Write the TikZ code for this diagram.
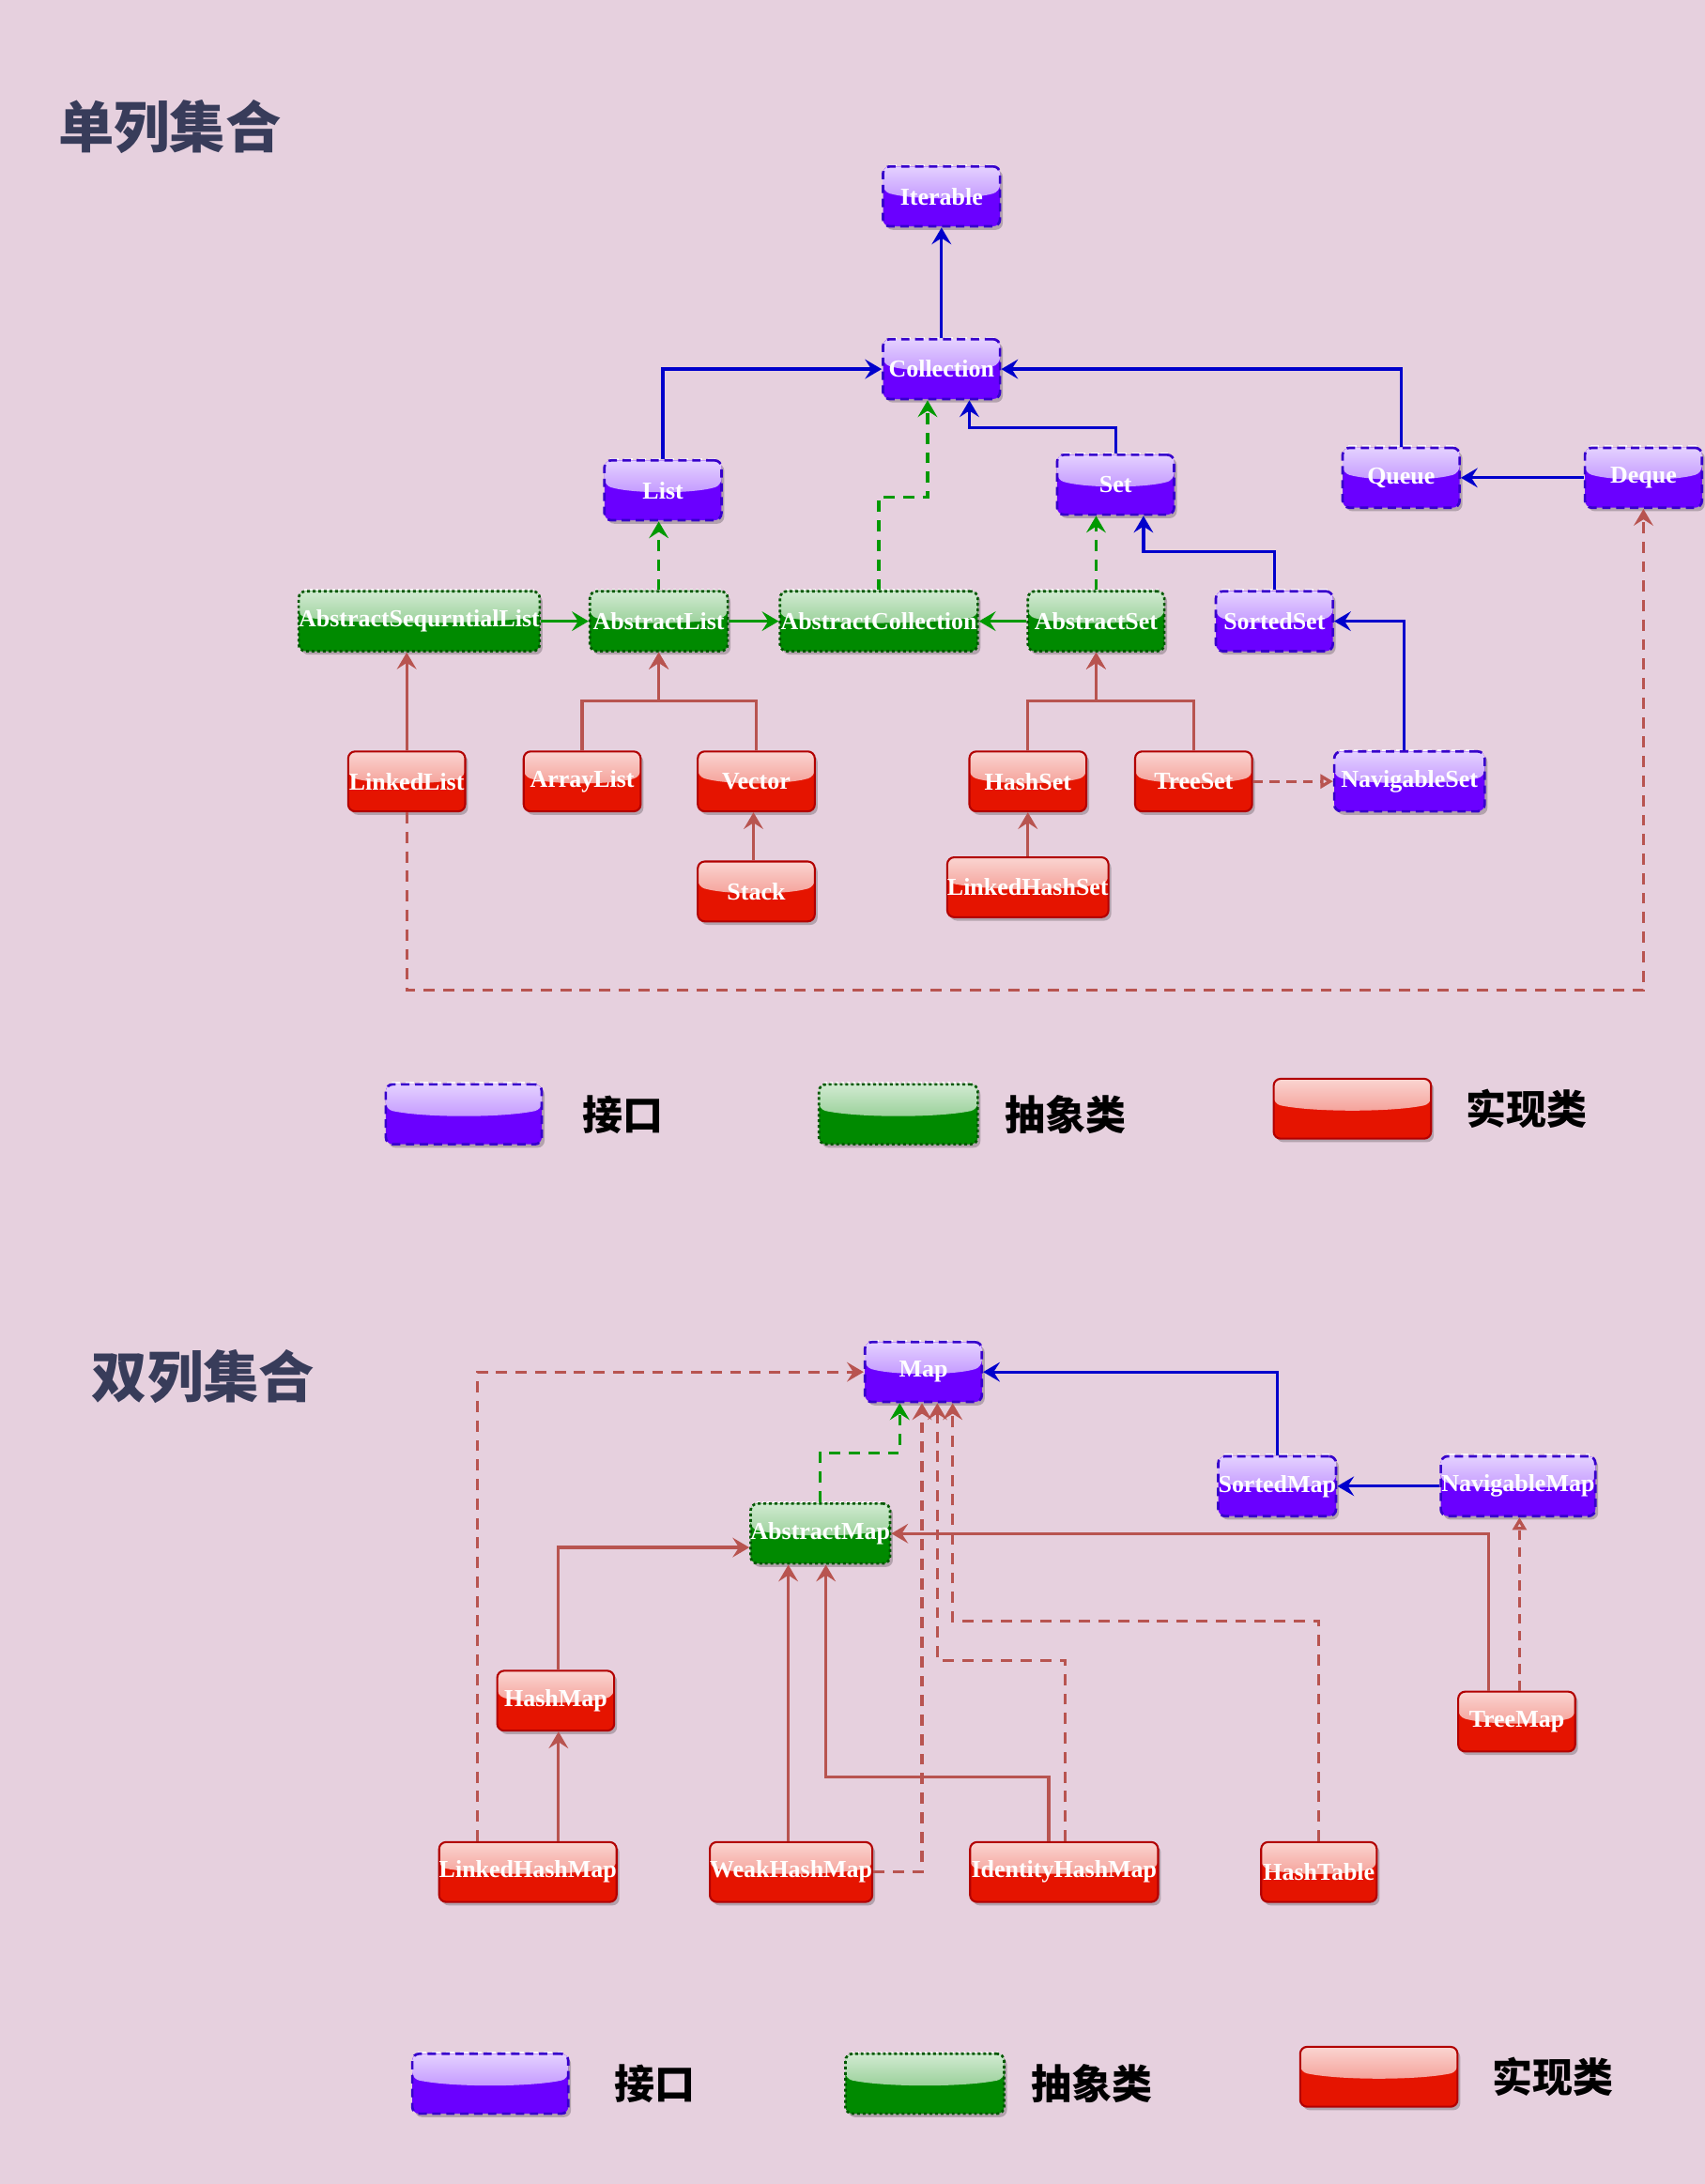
\documentclass[tikz,border=0pt]{standalone}
\usepackage{fontspec}
\setmainfont{Liberation Serif}
\newfontfamily\cjk{Noto Sans CJK SC}
\usetikzlibrary{arrows.meta,shadows,calc}
\definecolor{bg}{HTML}{E6D0DE}
\definecolor{ifc}{HTML}{6A00FF}
\definecolor{ifcd}{HTML}{3700CC}
\definecolor{abc}{HTML}{008A00}
\definecolor{abcd}{HTML}{005700}
\definecolor{imc}{HTML}{E51400}
\definecolor{imcd}{HTML}{B20000}
\definecolor{bluel}{HTML}{0000CC}
\definecolor{greenl}{HTML}{009900}
\definecolor{redl}{HTML}{B85450}
\definecolor{titlec}{HTML}{383C5A}
\tikzset{
  glass/.style={path picture={
    \fill[top color=#1!18!white, bottom color=#1!58!white]
      let \p1=(path picture bounding box.north west), \p2=(path picture bounding box.south east) in
      (\x1,\y1) -- (\x2,\y1) -- (\x2,{\y1-0.42*(\y1-\y2)})
      .. controls ({\x2-0.25*(\x2-\x1)},{\y1-0.56*(\y1-\y2)}) and ({\x1+0.25*(\x2-\x1)},{\y1-0.56*(\y1-\y2)}) ..
      (\x1,{\y1-0.42*(\y1-\y2)}) -- cycle;
  }},
  boxbase/.style={rectangle, rounded corners=5pt, minimum height=43pt, minimum width=84pt,
    inner sep=0pt, text=white, font=\bfseries\fontsize{17.5}{20}\selectfont,
    drop shadow={shadow xshift=2pt, shadow yshift=-2.5pt, fill=black, opacity=0.22}},
  topdash/.style={append after command={\pgfextra{\draw[white, opacity=0.85, line width=1.8pt, #1]
      ([xshift=5pt]\tikzlastnode.north west) -- ([xshift=-5pt]\tikzlastnode.north east);}}},
  iface/.style={boxbase, fill=ifc, draw=ifcd, line width=1.8pt, dash pattern=on 6pt off 4pt, glass=ifc,
    topdash={dash pattern=on 6pt off 4pt}},
  abst/.style={boxbase, fill=abc, draw=abcd, line width=1.8pt, dash pattern=on 2pt off 2pt, glass=abc,
    topdash={dash pattern=on 2pt off 2pt}},
  impl/.style={boxbase, fill=imc, draw=imcd, line width=1.4pt, glass=imc},
  title/.style={text=titlec, font=\cjk\bfseries\fontsize{40}{46}\selectfont, inner sep=0pt},
  legtext/.style={text=black, font=\cjk\bfseries\fontsize{29}{34}\selectfont, inner sep=0pt},
  tip/.style={-{Stealth[length=12pt,width=14pt,inset=4.5pt]}},
  be/.style={draw=bluel, line width=2.2pt, tip},
  gs/.style={draw=greenl, line width=2.2pt, tip},
  gd/.style={gs, dash pattern=on 8pt off 6pt},
  rs/.style={draw=redl, line width=2.2pt, tip},
  rd/.style={rs, dash pattern=on 8pt off 6pt},
  rt/.style={draw=redl, line width=2.2pt, dash pattern=on 7pt off 5pt, -{Triangle[open,length=9pt,width=10pt]}},
}
\begin{document}
\begin{tikzpicture}[x=1pt,y=-1pt]
\useasboundingbox (0,0) rectangle (1224,1568);
\fill[bg] (0,0) rectangle (1224,1568);

% ---------- single-column ----------
\node[title] (t1) at (122,91) {单列集合};

\node[iface] (Iterable) at (676,141) {Iterable};
\node[iface] (Collection) at (676,265) {Collection};
\node[iface] (List) at (476,352) {List};
\node[iface] (Set) at (801,348) {Set};
\node[iface] (Queue) at (1006,343) {Queue};
\node[iface] (Deque) at (1180,343) {Deque};
\node[abst, minimum width=173pt] (ASL) at (301,446) {AbstractSequrntialList};
\node[abst, minimum width=99pt] (AbstractList) at (473,446) {AbstractList};
\node[abst, minimum width=142pt] (AbstractCollection) at (631,446) {AbstractCollection};
\node[abst, minimum width=98pt] (AbstractSet) at (787,446) {AbstractSet};
\node[iface] (SortedSet) at (915,446) {SortedSet};
\node[impl] (LinkedList) at (292,561) {LinkedList};
\node[impl] (ArrayList) at (418,561) {ArrayList};
\node[impl] (Vector) at (543,561) {Vector};
\node[impl] (HashSet) at (738,561) {HashSet};
\node[impl] (TreeSet) at (857,561) {TreeSet};
\node[iface, minimum width=108pt] (NavigableSet) at (1012,561) {NavigableSet};
\node[impl] (Stack) at (543,640) {Stack};
\node[impl, minimum width=114pt] (LinkedHashSet) at (738,637) {LinkedHashSet};

\draw[be] (Collection.north) -- (Iterable.south);
\draw[be] (List.north) |- (Collection.west);
\draw[be] (Queue.north) |- (Collection.east);
\draw[be] (Set.north) -- (801,307) -| ([xshift=20pt]Collection.south);
\draw[be] (Deque.west) -- (Queue.east);
\draw[gd] (AbstractCollection.north) -- (631,357) -| ([xshift=-10pt]Collection.south);
\draw[gd] (AbstractList.north) -- (AbstractList.north |- List.south);
\draw[gd] (AbstractSet.north) -- (AbstractSet.north |- Set.south);
\draw[be] (SortedSet.north) -- (915,396) -| ([xshift=20pt]Set.south);
\draw[be] ([xshift=-4pt]NavigableSet.north) |- (SortedSet.east);
\draw[gs] (ASL.east) -- (AbstractList.west);
\draw[gs] (AbstractList.east) -- (AbstractCollection.west);
\draw[gs] (AbstractSet.west) -- (AbstractCollection.east);
\draw[rs] (LinkedList.north) -- (LinkedList.north |- ASL.south);
\draw[rs] (ArrayList.north) -- (418,503) -| (AbstractList.south);
\draw[rs] (Vector.north) -- (543,503) -| (AbstractList.south);
\draw[rs] (HashSet.north) -- (738,503) -| (AbstractSet.south);
\draw[rs] (TreeSet.north) -- (857,503) -| (AbstractSet.south);
\draw[rs] ([xshift=-2pt]Stack.north) -- ([xshift=-2pt]Vector.south);
\draw[rs] (LinkedHashSet.north) -- (HashSet.south);
\draw[rt] (TreeSet.east) -- (NavigableSet.west);
\draw[rd] (LinkedList.south) -- (292,711) -| (Deque.south);

% legend 1
\node[iface, minimum width=112pt] (legI1) at (333,800) {};
\node[legtext] (legIt1) at (447,800) {接口};
\node[abst, minimum width=114pt] (legA1) at (645,800) {};
\node[legtext] (legAt1) at (765,800) {抽象类};
\node[impl, minimum width=113pt] (legC1) at (971,796) {};
\node[legtext] (legCt1) at (1096,796) {实现类};

% ---------- double-column ----------
\node[title] (t2) at (146,988) {双列集合};

\node[iface] (Map) at (663,985) {Map};
\node[iface] (SortedMap) at (917,1067) {SortedMap};
\node[iface, minimum width=111pt] (NavigableMap) at (1090,1067) {NavigableMap};
\node[abst, minimum width=99pt] (AbstractMap) at (589,1101) {AbstractMap};
\node[impl] (HashMap) at (399,1221) {HashMap};
\node[impl] (TreeMap) at (1089,1236) {TreeMap};
\node[impl, minimum width=124pt] (LinkedHashMap) at (379,1344) {LinkedHashMap};
\node[impl, minimum width=115pt] (WeakHashMap) at (568,1344) {WeakHashMap};
\node[impl, minimum width=135pt] (IdentityHashMap) at (764,1344) {IdentityHashMap};
\node[impl, minimum width=83pt] (HashTable) at (947,1344) {HashTable};

\draw[be] (SortedMap.north) |- (Map.east);
\draw[be] (NavigableMap.west) -- (SortedMap.east);
\draw[gd] (AbstractMap.north) -- (589,1043) -| ([xshift=-17pt]Map.south);
\draw[rd] ([xshift=-36pt]LinkedHashMap.north) |- (Map.west);
\draw[rs] ([xshift=22pt]LinkedHashMap.north) -- ([xshift=2pt]HashMap.south);
\draw[rs] ([xshift=2pt]HashMap.north) |- ([yshift=-10pt]AbstractMap.west);
\draw[rs] ([xshift=-2pt]WeakHashMap.north) -- ([xshift=-23pt]AbstractMap.south);
\draw[rs] ([xshift=-11pt]IdentityHashMap.north) -- (753,1276) -| ([xshift=4pt]AbstractMap.south);
\draw[rs] ([xshift=-20pt]TreeMap.north) |- (AbstractMap.east);
\draw[rt] ([xshift=2pt]TreeMap.north) -- ([xshift=2pt]TreeMap.north |- NavigableMap.south);
\draw[rd] (WeakHashMap.east) -| ([xshift=-1pt]Map.south);
\draw[rd] ([xshift=1pt]IdentityHashMap.north) -- (765,1192) -| ([xshift=10pt]Map.south);
\draw[rd] (HashTable.north) -- (947,1164) -| ([xshift=21pt]Map.south);

% legend 2
\node[iface, minimum width=112pt] (legI2) at (352,1496) {};
\node[legtext] (legIt2) at (470,1496) {接口};
\node[abst, minimum width=114pt] (legA2) at (664,1496) {};
\node[legtext] (legAt2) at (784,1496) {抽象类};
\node[impl, minimum width=113pt] (legC2) at (990,1491) {};
\node[legtext] (legCt2) at (1115,1491) {实现类};
\end{tikzpicture}
\end{document}
